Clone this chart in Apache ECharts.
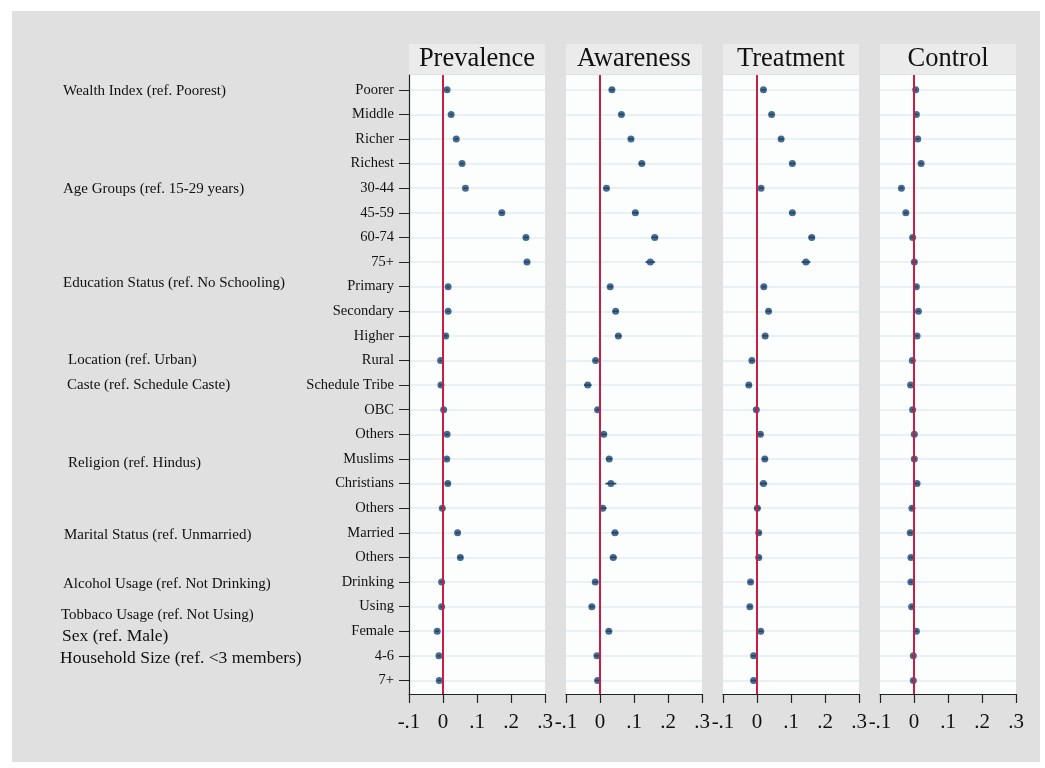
<!DOCTYPE html>
<html>
<head>
<meta charset="utf-8">
<script src="https://cdn.jsdelivr.net/npm/echarts@6/dist/echarts.min.js"></script>
<style>
  html, body { margin: 0; padding: 0; background: #ffffff; }
  #chart { width: 1045px; height: 768px; }
</style>
</head>
<body>
<div id="chart"></div>
<script>
// Covariate levels, top to bottom
const categories = ['Poorer', 'Middle', 'Richer', 'Richest', '30-44', '45-59', '60-74', '75+',
  'Primary', 'Secondary', 'Higher', 'Rural', 'Schedule Tribe', 'OBC', 'Others', 'Muslims',
  'Christians', 'Others', 'Married', 'Others', 'Drinking', 'Using', 'Female', '4-6', '7+'];

// Reference groups written in the left margin
const groupLabels = ['Wealth Index (ref. Poorest)', 'Age Groups (ref. 15-29 years)',
  'Education Status (ref. No Schooling)', 'Location (ref. Urban)', 'Caste (ref. Schedule Caste)',
  'Religion (ref. Hindus)', 'Marital Status (ref. Unmarried)', 'Alcohol Usage (ref. Not Drinking)',
  'Tobbaco Usage (ref. Not Using)', 'Sex (ref. Male)', 'Household Size (ref. <3 members)'];

const panelTitles = ['Prevalence', 'Awareness', 'Treatment', 'Control'];
const xTickLabels = ['-.1', '0', '.1', '.2', '.3'];

// Marginal effects (point estimates)
const prevalence = [0.012, 0.024, 0.039, 0.056, 0.066, 0.173, 0.244, 0.247, 0.015, 0.015, 0.008,
  -0.007, -0.006, 0.002, 0.012, 0.011, 0.014, -0.002, 0.043, 0.051, -0.004, -0.004, -0.017, -0.012, -0.011];
const awareness = [0.035, 0.063, 0.091, 0.123, 0.019, 0.104, 0.161, 0.148, 0.030, 0.046, 0.054,
  -0.013, -0.036, -0.007, 0.011, 0.027, 0.032, 0.008, 0.044, 0.039, -0.014, -0.024, 0.026, -0.009, -0.007];
const treatment = [0.019, 0.043, 0.071, 0.104, 0.012, 0.104, 0.161, 0.144, 0.020, 0.034, 0.024,
  -0.015, -0.024, -0.002, 0.010, 0.023, 0.019, 0.001, 0.005, 0.005, -0.019, -0.021, 0.011, -0.010, -0.010];
const control = [0.005, 0.007, 0.011, 0.021, -0.037, -0.024, -0.004, 0.001, 0.007, 0.013, 0.009,
  -0.005, -0.010, -0.004, 0.001, 0.001, 0.009, -0.006, -0.011, -0.009, -0.009, -0.007, 0.007, -0.002, -0.002];

// Half-widths of the 95% confidence intervals
const prevalenceCI = [0.004, 0.004, 0.005, 0.005, 0.005, 0.006, 0.007, 0.008, 0.004, 0.004, 0.005,
  0.003, 0.005, 0.003, 0.005, 0.005, 0.007, 0.006, 0.006, 0.007, 0.004, 0.004, 0.005, 0.004, 0.005];
const awarenessCI = [0.007, 0.007, 0.008, 0.009, 0.007, 0.009, 0.010, 0.014, 0.007, 0.008, 0.009,
  0.006, 0.011, 0.006, 0.008, 0.009, 0.016, 0.011, 0.010, 0.010, 0.007, 0.007, 0.007, 0.007, 0.008];
const treatmentCI = [0.006, 0.006, 0.007, 0.008, 0.006, 0.008, 0.009, 0.013, 0.006, 0.007, 0.008,
  0.005, 0.008, 0.005, 0.007, 0.008, 0.011, 0.009, 0.008, 0.008, 0.006, 0.006, 0.006, 0.006, 0.007];
const controlCI = [0.004, 0.004, 0.004, 0.005, 0.005, 0.005, 0.005, 0.007, 0.004, 0.004, 0.005,
  0.003, 0.004, 0.003, 0.004, 0.005, 0.006, 0.005, 0.005, 0.005, 0.004, 0.004, 0.004, 0.004, 0.004];

const panelValues = [prevalence, awareness, treatment, control];
const panelCI = [prevalenceCI, awarenessCI, treatmentCI, controlCI];

// ---- layout & style ----
const FONT = '"Liberation Serif", "Times New Roman", serif';
const NAVY = '#1a4570';
const RED = '#c81e45';
const panelLefts = [409, 566, 723, 880];
const panelWidth = 136;
const plotTop = 75, plotHeight = 619;
const rows = categories.map((_, k) => k + 1);

// Left-margin group label placement [x, y, fontSize]
const groupLabelPos = [
  [63, 91, 15], [63, 189, 15], [63, 283, 15], [68, 360, 15], [67, 385, 15], [68, 463, 15],
  [64, 535, 15], [63, 584, 15], [61, 615, 15], [62, 636, 17.5], [60, 658, 17.5]
];

const grids = [], xAxes = [], yAxes = [], series = [];
const graphics = [{
  type: 'rect', z: -10, silent: true,
  shape: { x: 12, y: 11, width: 1028, height: 751 },
  style: { fill: '#e0e0e0' }
}];

panelTitles.forEach((title, i) => {
  const left = panelLefts[i];
  grids.push({
    left: left, top: plotTop, width: panelWidth, height: plotHeight,
    show: true, backgroundColor: '#fcfefe', borderWidth: 0
  });
  xAxes.push({
    gridIndex: i, type: 'value', min: -0.1, max: 0.3, interval: 0.1,
    axisLine: { show: true, onZero: false, lineStyle: { color: '#222', width: 1.2 } },
    axisTick: { show: true, inside: false, length: 9, lineStyle: { color: '#222', width: 1.2 } },
    axisLabel: {
      showMinLabel: true, showMaxLabel: true, margin: 18,
      fontFamily: FONT, fontSize: 21, color: '#111',
      formatter: v => xTickLabels[Math.round(v * 10) + 1]
    },
    splitLine: { show: false }
  });
  yAxes.push({
    gridIndex: i, type: 'value', inverse: true, min: 0.4, max: 25.55,
    axisLine: { show: i === 0, onZero: false, lineStyle: { color: '#222', width: 1.2 } },
    axisTick: { show: i === 0, customValues: rows, length: 10, lineStyle: { color: '#222', width: 1 } },
    axisLabel: {
      show: i === 0, customValues: rows, margin: 15,
      fontFamily: FONT, fontSize: 14.5, color: '#111',
      formatter: v => categories[Math.round(v) - 1]
    },
    splitLine: { show: true, lineStyle: { color: '#e4edf0', width: 1.5 } }
  });

  const vals = panelValues[i], ci = panelCI[i];
  // confidence interval bars + zero reference line
  series.push({
    type: 'custom', xAxisIndex: i, yAxisIndex: i, z: 2, silent: true,
    data: vals.map((v, k) => [v - ci[k], v + ci[k], k + 1]),
    encode: { x: [0, 1], y: 2 },
    renderItem: (params, api) => {
      const a = api.coord([api.value(0), api.value(2)]);
      const b = api.coord([api.value(1), api.value(2)]);
      return {
        type: 'line',
        shape: { x1: a[0], y1: a[1], x2: b[0], y2: b[1] },
        style: { stroke: NAVY, lineWidth: 1.6 }
      };
    },
    markLine: {
      silent: true, symbol: 'none', label: { show: false },
      lineStyle: { color: RED, width: 2, type: 'solid' },
      data: [{ xAxis: 0 }]
    }
  });
  // point estimates
  series.push({
    type: 'scatter', xAxisIndex: i, yAxisIndex: i, z: 3, silent: true,
    symbol: 'circle', symbolSize: 7,
    itemStyle: { color: NAVY },
    data: vals.map((v, k) => [v, k + 1])
  });

  // panel header strip
  graphics.push({
    type: 'rect', silent: true,
    shape: { x: left, y: 44, width: panelWidth, height: 30 },
    style: { fill: '#ebebeb' }
  });
  graphics.push({
    type: 'text', silent: true, x: left + panelWidth / 2, y: 59,
    style: { text: title, font: '26.5px ' + FONT, fill: '#111', align: 'center', verticalAlign: 'middle' }
  });
});

groupLabels.forEach((txt, k) => {
  const p = groupLabelPos[k];
  graphics.push({
    type: 'text', silent: true, x: p[0], y: p[1],
    style: { text: txt, font: p[2] + 'px ' + FONT, fill: '#111', align: 'left', verticalAlign: 'middle' }
  });
});

const chart = echarts.init(document.getElementById('chart'), null, { renderer: 'canvas' });
chart.setOption({
  animation: false,
  backgroundColor: '#ffffff',
  textStyle: { fontFamily: FONT },
  grid: grids,
  xAxis: xAxes,
  yAxis: yAxes,
  series: series,
  graphic: graphics
});
</script>
</body>
</html>
